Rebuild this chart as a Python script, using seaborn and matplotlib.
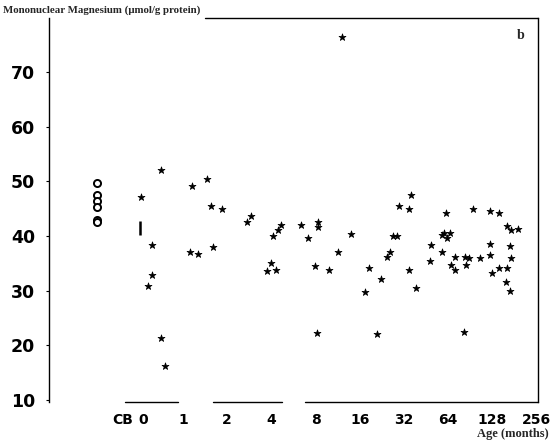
import numpy as np
import pandas as pd
import matplotlib
matplotlib.use("Agg")
import matplotlib.pyplot as plt
import seaborn as sns

# ---- data ----
# cord blood (CB) values, open circles
cb_values = [49.7, 47.5, 46.4, 45.3, 43.0, 42.5]
# single vertical-bar mark near birth
bar_log2_age = [-0.97]
bar_values = [41.5]
# subjects: age position in log2(months) and Mg value
star_log2_age = [-0.96, -0.71, -0.70, -0.80, -0.50, -0.50, -0.41, 0.17, 0.20, 0.34,
                 0.55, 0.63, 0.67, 0.89, 1.44, 1.54, 1.89, 2.00, 2.03, 2.10,
                 2.14, 2.21, 2.68, 2.83, 2.98, 3.04, 3.06, 3.06, 3.30, 3.51,
                 3.59, 3.81, 4.11, 4.21, 4.38, 4.47, 4.62, 4.69, 4.75, 4.84,
                 4.89, 5.11, 5.15, 5.11, 5.28, 5.58, 5.60, 5.85, 5.91, 6.03,
                 5.98, 5.87, 5.94, 6.07, 6.15, 6.16, 6.36, 6.37, 6.46, 6.71,
                 6.41, 6.56, 6.95, 7.15, 6.95, 6.95, 7.00, 7.15, 7.33, 7.41,
                 7.58, 7.39, 7.41, 7.33, 7.30, 7.39]
star_values = [47.1, 38.4, 32.9, 30.9, 52.1, 21.3, 16.2, 37.0, 49.2, 36.7,
               50.4, 45.5, 37.9, 44.9, 42.6, 43.7, 33.5, 35.0, 40.0, 33.7,
               41.0, 42.0, 42.0, 39.6, 34.5, 22.2, 42.6, 41.6, 33.7, 37.0,
               76.5, 40.4, 29.8, 34.1, 22.1, 32.1, 36.2, 37.0, 39.9, 39.9,
               45.5, 44.9, 47.5, 33.8, 30.4, 35.4, 38.4, 40.2, 40.5, 40.6,
               39.6, 37.0, 44.2, 34.7, 33.8, 36.2, 22.5, 36.2, 35.9, 35.9,
               34.7, 44.9, 44.6, 44.2, 38.5, 36.5, 33.3, 34.2, 41.8, 41.1,
               41.2, 38.2, 35.9, 34.2, 31.6, 30.0]
x_tick_labels = ["CB", "0", "1", "2", "4", "8", "16", "32", "64", "128", "256"]
y_ticks = [10, 20, 30, 40, 50, 60, 70]

CB_POS = -1.94
cb_label_pos = -1.36
zero_pos = -0.90

stars = pd.DataFrame({"x": star_log2_age, "y": star_values})
cb = pd.DataFrame({"x": [CB_POS] * len(cb_values), "y": cb_values})
bars = pd.DataFrame({"x": bar_log2_age, "y": bar_values})

sns.set_style("white")
fig = plt.figure(figsize=(5.53, 4.46), dpi=100)
ax = fig.add_axes([49 / 553, 1 - 402 / 446, (538 - 49) / 553, (402 - 18) / 446])

sns.scatterplot(data=stars, x="x", y="y", ax=ax, marker="*", s=28,
                color="black", edgecolor="black", linewidth=0.5, legend=False)
sns.scatterplot(data=cb, x="x", y="y", ax=ax, marker="o", s=26,
                facecolor="white", edgecolor="black", linewidth=1.4, legend=False)
sns.scatterplot(data=bars, x="x", y="y", ax=ax, marker="|", s=110,
                color="black", linewidth=1.8, legend=False)

ax.set_xlim(-3.03, 8.03)
ax.set_ylim(9.6, 79.9)

pos = [cb_label_pos, zero_pos] + [float(np.log2(int(l))) for l in x_tick_labels[2:]]
ax.set_xticks(pos)
ax.set_xticklabels(x_tick_labels)
ax.set_yticks(y_ticks)
ax.set_yticklabels([str(v) for v in y_ticks])
ax.set_xlabel("")
ax.set_ylabel("")

for lab in ax.get_xticklabels():
    lab.set_fontfamily("DejaVu Sans")
    lab.set_fontweight("bold")
    lab.set_fontsize(10)
for lab in ax.get_yticklabels():
    lab.set_fontfamily("DejaVu Sans")
    lab.set_fontweight("bold")
    lab.set_fontsize(12.5)
ax.tick_params(axis="x", length=0, pad=8, colors="black")
ax.tick_params(axis="y", length=2, pad=8, colors="black", direction="out", left=True)

for s in ["left", "right"]:
    ax.spines[s].set_color("black")
    ax.spines[s].set_linewidth(1.0)
ax.spines["top"].set_visible(False)
ax.spines["bottom"].set_visible(False)
# partial frame lines (as in the scanned original)
ax.plot([0.32, 1.0], [1.0, 1.0], transform=ax.transAxes, color="black",
        linewidth=1.0, clip_on=False)
for a, b in [(125, 178), (213, 282), (305, 538)]:
    ax.plot([(a - 49) / 489, (b - 49) / 489], [0.0, 0.0], transform=ax.transAxes,
            color="black", linewidth=1.0, clip_on=False)

fig.text(3 / 553, 1 - 10 / 446, "Mononuclear Magnesium (\u03bcmol/g protein)",
         fontfamily="Liberation Serif", fontweight="bold", fontsize=7.8,
         ha="left", va="center")
ax.text(0.965, 0.955, "b", transform=ax.transAxes, fontfamily="Liberation Serif",
        fontweight="bold", fontsize=10, ha="center", va="center")
fig.text(549 / 553, 1 - 434 / 446, "Age (months)", fontfamily="Liberation Serif",
         fontweight="bold", fontsize=9, ha="right", va="center")

fig.savefig("out.png", dpi=100, facecolor="white")
